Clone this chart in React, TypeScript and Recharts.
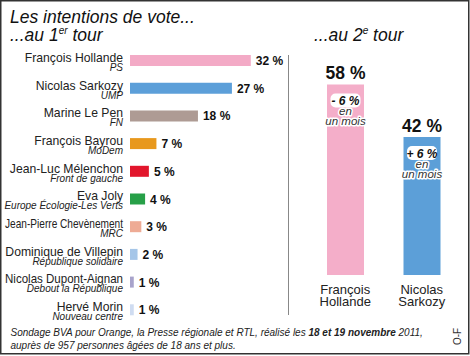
import { Bar, BarChart, Cell, LabelList, XAxis, YAxis } from "recharts";

const candidates = [
	"François Hollande",
	"Nicolas Sarkozy",
	"Marine Le Pen",
	"François Bayrou",
	"Jean-Luc Mélenchon",
	"Eva Joly",
	"Jean-Pierre Chevènement",
	"Dominique de Villepin",
	"Nicolas Dupont-Aignan",
	"Hervé Morin",
];
const parties = [
	"PS",
	"UMP",
	"FN",
	"MoDem",
	"Front de gauche",
	"Europe Écologie-Les Verts",
	"MRC",
	"République solidaire",
	"Debout la République",
	"Nouveau centre",
];
const firstRound = [32, 27, 18, 7, 5, 4, 3, 2, 1, 1];
const firstColors = [
	"#f3aac6",
	"#5c9fd9",
	"#ae9b94",
	"#e8981c",
	"#e2162c",
	"#27a048",
	"#eeab95",
	"#a6c6e8",
	"#a8a3cb",
	"#cfdcf1",
];

const finalists = [
	["François", "Hollande"],
	["Nicolas", "Sarkozy"],
];
const secondRound = [58, 42];
const monthChange = ["- 6 %", "+ 6 %"];
const secondColors = ["#f4aec9", "#5c9fd8"];

const font = "'Liberation Sans', Arial, sans-serif";

const firstData = candidates.map((name, i) => ({
	name,
	party: parties[i],
	value: firstRound[i],
}));
const secondData = finalists.map((lines, i) => ({
	name: lines.join(" "),
	value: secondRound[i],
	change: monthChange[i],
}));

// the names are squeezed in the original when they get too long
let ctx: CanvasRenderingContext2D | null = null;
function measure(text: string, size: number) {
	if (!ctx) ctx = document.createElement("canvas").getContext("2d");
	if (!ctx) return 0;
	ctx.font = `${size}px 'Liberation Sans', Arial, sans-serif`;
	return ctx.measureText(text).width;
}

function NameTick({ y, payload, index }: any) {
	const name = payload.value;
	const tooWide = measure(name, 12.2) > 118;
	return (
		<g fontFamily={font} fill="#222">
			<text
				x={123}
				y={y + 1}
				textAnchor="end"
				fontSize={12.2}
				textLength={tooWide ? 118 : undefined}
				lengthAdjust="spacingAndGlyphs"
			>
				{name}
			</text>
			<text x={123} y={y + 10} textAnchor="end" fontSize={10} fontStyle="italic">
				{parties[index]}
			</text>
		</g>
	);
}

function FinalistTick({ x, y, index }: any) {
	const lines = finalists[index] || [];
	return (
		<text x={x} textAnchor="middle" fontSize={13} fill="#222" fontFamily={font}>
			<tspan x={x} y={y + 11}>
				{lines[0]}
			</tspan>
			<tspan x={x} y={y + 23}>
				{lines[1]}
			</tspan>
		</text>
	);
}

function ValueLabel({ x, y, width, height, value }: any) {
	return (
		<text
			x={x + width + 5}
			y={y + height / 2 + 4.5}
			fontSize={12}
			fontWeight="bold"
			fill="#111"
			fontFamily={font}
		>
			{value} %
		</text>
	);
}

function TopLabel({ x, y, width, value }: any) {
	return (
		<text
			x={x + width / 2}
			y={y - 5}
			textAnchor="middle"
			fontSize={17.5}
			fontWeight="bold"
			fill="#111"
			fontFamily={font}
		>
			{value} %
		</text>
	);
}

function ChangeNote({ x, y, width, index }: any) {
	const cx = x + width / 2;
	const halo = {
		stroke: "#fff",
		strokeWidth: 3,
		paintOrder: "stroke" as const,
		strokeLinejoin: "round" as const,
	};
	return (
		<g fontFamily={font} fontStyle="italic" textAnchor="middle">
			<rect x={cx - 15} y={y + 9} width={30} height={14} rx={5} fill="#fff" />
			<text x={cx} y={y + 20.5} fontSize={12} fontWeight="bold" fill="#111">
				{monthChange[index]}
			</text>
			<text x={cx} y={y + 31} fontSize={11.5} fill="#333" style={halo}>
				en
			</text>
			<text x={cx} y={y + 41} fontSize={11.5} fill="#333" style={halo}>
				un mois
			</text>
		</g>
	);
}

export default function App() {
	return (
		<div
			style={{
				position: "absolute",
				left: 0,
				top: 0,
				width: 470,
				height: 356,
				background: "#fff",
				fontFamily: font,
				overflow: "hidden",
			}}
		>
			<div style={{ position: "absolute", left: 0, top: 0 }}>
				<BarChart
					layout="vertical"
					width={290}
					height={356}
					data={firstData}
					margin={{ top: 47, right: 9, bottom: 32, left: 0 }}
				>
					<XAxis type="number" domain={[0, 40]} hide />
					<YAxis
						type="category"
						dataKey="name"
						width={130}
						axisLine={false}
						tickLine={false}
						tick={<NameTick />}
						interval={0}
					/>
					<Bar dataKey="value" barSize={11} isAnimationActive={false}>
						{firstData.map((d, i) => (
							<Cell key={d.name} fill={firstColors[i]} />
						))}
						<LabelList dataKey="value" content={<ValueLabel />} />
					</Bar>
				</BarChart>
			</div>
			<div style={{ position: "absolute", left: 290, top: 0 }}>
				<BarChart
					width={180}
					height={356}
					data={secondData}
					margin={{ top: 45, right: 10, bottom: 0, left: 17 }}
				>
					<XAxis
						dataKey="name"
						height={81}
						axisLine={false}
						tickLine={false}
						tick={<FinalistTick />}
						interval={0}
					/>
					<YAxis type="number" domain={[0, 70]} hide />
					<Bar dataKey="value" barSize={37} isAnimationActive={false}>
						{secondData.map((d, i) => (
							<Cell key={d.name} fill={secondColors[i]} />
						))}
						<LabelList dataKey="value" content={<TopLabel />} />
						<LabelList dataKey="change" content={<ChangeNote />} />
					</Bar>
				</BarChart>
			</div>
			<svg
				width={470}
				height={356}
				style={{ position: "absolute", left: 0, top: 0, pointerEvents: "none" }}
				fontFamily={font}
			>
				<text x={10} y={23} fontSize={17.5} fontStyle="italic" fill="#111">
					Les intentions de vote...
				</text>
				<text x={10} y={41} fontSize={17.5} fontStyle="italic" fill="#111">
					...au 1<tspan fontSize={10} dy={-7}>er</tspan>
					<tspan dy={7}> tour</tspan>
				</text>
				<text x={314} y={41} fontSize={17.5} fontStyle="italic" fill="#111">
					...au 2<tspan fontSize={10} dy={-7}>e</tspan>
					<tspan dy={7}> tour</tspan>
				</text>
				<line x1={288.5} y1={55} x2={288.5} y2={315} stroke="#888" strokeWidth={1} />
				<text x={10.5} y={336} fontSize={10} fontStyle="italic" fill="#222">
					Sondage BVA pour Orange, la Presse régionale et RTL, réalisé les{" "}
					<tspan fontWeight="bold">18 et 19 novembre</tspan> 2011,
				</text>
				<text x={10.5} y={349} fontSize={10} fontStyle="italic" fill="#222">
					auprès de 957 personnes âgées de 18 ans et plus.
				</text>
				<text
					x={0}
					y={0}
					fontSize={10}
					fill="#333"
					textAnchor="middle"
					transform="translate(461 336.5) rotate(-90)"
				>
					O-F
				</text>
				<rect
					x={0.75}
					y={0.75}
					width={468}
					height={353}
					fill="none"
					stroke="#333"
					strokeWidth={1.5}
				/>
			</svg>
		</div>
	);
}
